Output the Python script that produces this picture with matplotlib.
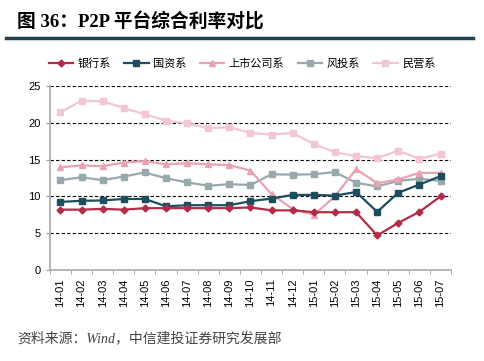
import numpy as np
import matplotlib
matplotlib.use("Agg")
from matplotlib import pyplot as plt

plt.rcParams['font.family'] = ['Liberation Sans', 'Noto Sans CJK SC', 'DejaVu Sans']

# data
months = ["14-01", "14-02", "14-03", "14-04", "14-05", "14-06", "14-07", "14-08",
          "14-09", "14-10", "14-11", "14-12", "15-01", "15-02", "15-03", "15-04",
          "15-05", "15-06", "15-07"]
bank = [8.2, 8.2, 8.3, 8.2, 8.4, 8.4, 8.4, 8.4, 8.4, 8.5, 8.1, 8.1, 7.85, 7.85, 7.85, 4.7, 6.4, 7.9, 10.0]
state = [9.25, 9.4, 9.45, 9.65, 9.65, 8.65, 8.8, 8.8, 8.8, 9.35, 9.7, 10.2, 10.2, 10.1, 10.6, 7.9, 10.5, 11.6, 12.75]
listed = [13.95, 14.2, 14.1, 14.6, 14.8, 14.35, 14.5, 14.35, 14.25, 13.5, 10.3, 8.3, 7.5, 10.0, 13.7, 11.8, 12.3, 13.2, 13.2]
venture = [12.2, 12.6, 12.2, 12.7, 13.25, 12.45, 11.9, 11.45, 11.65, 11.55, 13.0, 12.95, 13.0, 13.3, 11.85, 11.35, 12.1, 12.4, 12.1]
private = [21.4, 23.0, 22.9, 22.0, 21.15, 20.3, 19.9, 19.25, 19.4, 18.6, 18.4, 18.6, 17.1, 16.0, 15.45, 15.2, 16.2, 15.1, 15.8]

names = ["银行系", "国资系", "上市公司系", "风投系", "民营系"]
series = [bank, state, listed, venture, private]
colors = ["#B22C47", "#1D4E5E", "#E8A3B3", "#97A9AB", "#F2C6D3"]
markers = ["D", "s", "^", "s", "s"]
msizes = [3.5, 5, 5, 5, 5]

fig = plt.figure(figsize=(4.84, 3.61), dpi=100)
ax = fig.add_axes([0.103, 0.252, 0.829, 0.51])

x = np.arange(len(months))
for vals, name, c, m, ms in zip(series[::-1], names[::-1], colors[::-1], markers[::-1], msizes[::-1]):
    ax.plot(x, vals, color=c, marker=m, markersize=ms, linewidth=1.6, label=name)

ax.set_xlim(-0.5, len(months) - 0.5)
ax.set_ylim(0, 25)
ax.set_yticks([0, 5, 10, 15, 20, 25])
ax.yaxis.grid(True, linestyle=(0, (3, 2)), color="black", linewidth=0.8)
ax.set_axisbelow(True)

ax.set_xticks(x)
ax.set_xticklabels(months, rotation=90, fontsize=8)
ax.set_xticks(np.arange(-0.5, len(months)), minor=True)
ax.tick_params(axis="x", which="major", length=0, pad=6)
ax.tick_params(axis="x", which="minor", length=3, color="#999999")
ax.tick_params(axis="y", length=3, color="#999999", labelsize=8)

for s in ["top", "right"]:
    ax.spines[s].set_visible(False)
for s in ["left", "bottom"]:
    ax.spines[s].set_color("#AAAAAA")
    ax.spines[s].set_linewidth(1.2)

handles, labels = ax.get_legend_handles_labels()
fig.legend(handles[::-1], labels[::-1], loc="center", bbox_to_anchor=(0.5, 0.825), ncol=5,
           frameon=False, fontsize=8, handlelength=2.2, columnspacing=1.2, handletextpad=0.4)

fig.text(0.035, 0.938, "图 36：P2P 平台综合利率对比", fontsize=13.5, fontweight="bold",
         family=["Liberation Serif", "Noto Sans CJK SC"], va="center")
fig.add_artist(plt.Line2D([0.012, 0.978], [0.895, 0.895], color="#1D4550", linewidth=2.5))
fig.text(0.035, 0.064, "资料来源：Wind，中信建投证券研究发展部", fontsize=10, style="italic",
         color="#444444", family=["Liberation Serif", "Noto Sans CJK SC"], va="center")

fig.savefig("out.png", dpi=100)
